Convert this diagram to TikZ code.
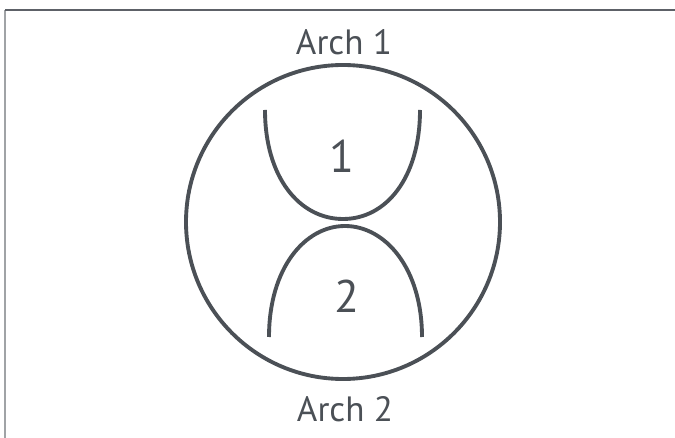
\documentclass[tikz,border=0pt]{standalone}
\usepackage{fontspec}
\setmainfont{PT Sans}
\usepackage{tikz}
\definecolor{archgray}{HTML}{4B5056}
\definecolor{framegray}{HTML}{A0A3A6}

\begin{document}
\begin{tikzpicture}[x=0.02cm, y=-0.02cm, every node/.style={font=\fontsize{20}{24}\selectfont, text=archgray}, arch/.style={draw=archgray, line width=2.2pt}]
	\useasboundingbox (0,0) rectangle (675,438);
	\draw[framegray, line width=0.9pt] (5,10) -- (5,438);
	\draw[archgray!90, line width=0.9pt] (5,10) -- (675,10);
	\draw[arch] (343,222) circle (157*0.02cm);
	\draw[arch] (265,110) .. controls (265,178) and (300,219) .. (343,219) .. controls (386,219) and (420,178) .. (420,110);
	\draw[arch] (269,337) .. controls (269,268) and (305,226) .. (345,226) .. controls (385,226) and (422,268) .. (422,337);
	\node (a1) at (344,42) {Arch 1};
	\node (a2) at (345,409) {Arch 2};
	\node[font=\fontsize{26}{30}\selectfont] (n1) at (342,156) {1};
	\node[font=\fontsize{26}{30}\selectfont] (n2) at (347,296) {2};
\end{tikzpicture}
\end{document}
